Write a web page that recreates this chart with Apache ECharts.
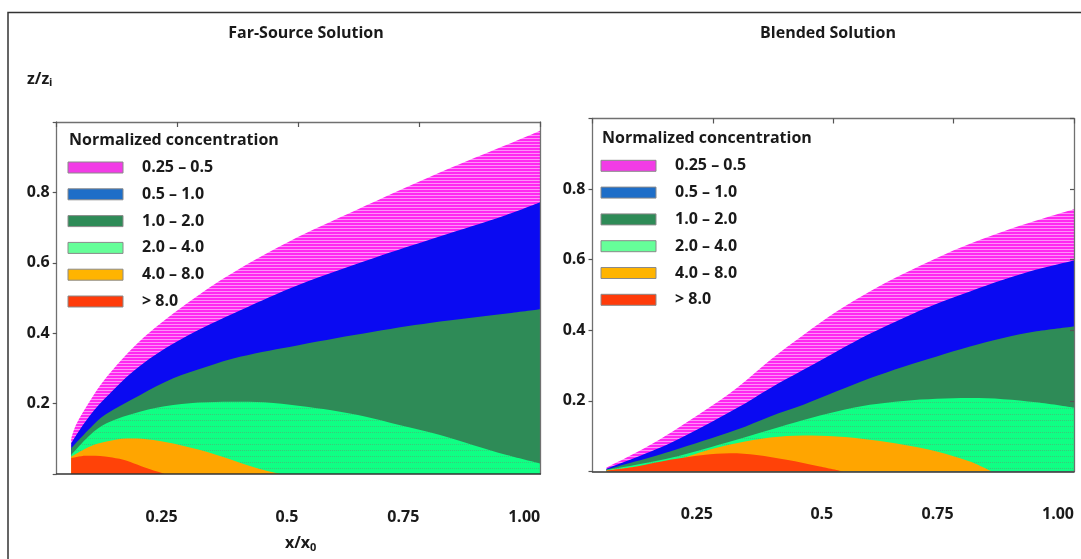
<!DOCTYPE html>
<html>
<head>
<meta charset="utf-8">
<script src="https://cdn.jsdelivr.net/npm/echarts@6/dist/echarts.min.js"></script>
<style>
  html, body { margin: 0; padding: 0; background: #fff; }
  #chart { width: 1081px; height: 559px; }
</style>
</head>
<body>
<div id="chart"></div>
<script>
// Axis ticks and labels
const xTicks = [0.25, 0.5, 0.75, 1.0];
const xTickLabels = ['0.25', '0.5', '0.75', '1.00'];
const yTicks = [0.2, 0.4, 0.6, 0.8];
const yTickLabels = ['0.2', '0.4', '0.6', '0.8'];

// Concentration bands (legend order)
const bandLabels = ['0.25 \u2013 0.5', '0.5 \u2013 1.0', '1.0 \u2013 2.0', '2.0 \u2013 4.0', '4.0 \u2013 8.0', '> 8.0'];
const panelTitles = ['Far-Source Solution', 'Blended Solution'];
const legendTitle = 'Normalized concentration';

// Upper edge [x/x0, z/zi] of each contour, far-source solution
const farPink = [[0.03, 0.10], [0.04, 0.14], [0.07, 0.21], [0.10, 0.27], [0.17, 0.375], [0.26, 0.475], [0.35, 0.56], [0.48, 0.66], [0.62, 0.75], [0.79, 0.855], [0.94, 0.94], [1.0, 0.975]];
const farBlue = [[0.03, 0.087], [0.06, 0.15], [0.10, 0.215], [0.17, 0.305], [0.26, 0.385], [0.38, 0.465], [0.50, 0.537], [0.655, 0.613], [0.79, 0.674], [0.93, 0.736], [1.0, 0.772]];
const farGreen = [[0.03, 0.073], [0.069, 0.13], [0.10, 0.168], [0.172, 0.224], [0.241, 0.272], [0.31, 0.305], [0.379, 0.333], [0.50, 0.366], [0.655, 0.404], [0.793, 0.433], [0.931, 0.456], [1.0, 0.468]];
const farLight = [[0.03, 0.054], [0.069, 0.111], [0.103, 0.144], [0.172, 0.177], [0.241, 0.196], [0.31, 0.204], [0.379, 0.205], [0.448, 0.202], [0.517, 0.191], [0.586, 0.177], [0.655, 0.158], [0.724, 0.134], [0.793, 0.111], [0.862, 0.082], [0.931, 0.054], [1.0, 0.030]];
const farOrange = [[0.03, 0.049], [0.069, 0.078], [0.103, 0.092], [0.145, 0.101], [0.186, 0.099], [0.241, 0.087], [0.31, 0.063], [0.379, 0.032], [0.434, 0.009], [0.462, 0]];
const farRed = [[0.03, 0.045], [0.06, 0.052], [0.10, 0.050], [0.13, 0.043], [0.16, 0.030], [0.19, 0.015], [0.224, 0]];

// Upper edge [x/x0, z/zi] of each contour, blended solution
const blendPink = [[0.029, 0.011], [0.126, 0.080], [0.230, 0.170], [0.299, 0.236], [0.369, 0.316], [0.438, 0.387], [0.507, 0.453], [0.576, 0.510], [0.646, 0.560], [0.715, 0.605], [0.784, 0.645], [0.853, 0.680], [0.922, 0.711], [1.0, 0.743]];
const blendBlue = [[0.029, 0.008], [0.161, 0.080], [0.299, 0.179], [0.369, 0.236], [0.438, 0.288], [0.507, 0.340], [0.576, 0.390], [0.646, 0.435], [0.715, 0.475], [0.784, 0.510], [0.853, 0.543], [0.922, 0.572], [1.0, 0.598]];
const blendGreen = [[0.029, 0.006], [0.161, 0.057], [0.299, 0.118], [0.369, 0.156], [0.438, 0.189], [0.507, 0.227], [0.576, 0.264], [0.646, 0.297], [0.715, 0.326], [0.784, 0.354], [0.853, 0.378], [0.922, 0.397], [1.0, 0.411]];
const blendLight = [[0.029, 0.004], [0.161, 0.038], [0.299, 0.090], [0.369, 0.118], [0.438, 0.146], [0.507, 0.170], [0.576, 0.189], [0.646, 0.200], [0.715, 0.206], [0.784, 0.208], [0.853, 0.205], [0.922, 0.196], [1.0, 0.181]];
const blendOrange = [[0.029, 0.003], [0.161, 0.028], [0.230, 0.057], [0.299, 0.080], [0.369, 0.096], [0.438, 0.102], [0.507, 0.099], [0.576, 0.090], [0.646, 0.076], [0.715, 0.057], [0.784, 0.028], [0.829, 0]];
const blendRed = [[0.029, 0.002], [0.092, 0.014], [0.161, 0.033], [0.230, 0.047], [0.286, 0.052], [0.341, 0.047], [0.403, 0.033], [0.472, 0.014], [0.521, 0]];

const FONT = '"Open Sans", Lato, sans-serif';
const TEXT = '#1a1a1a';

// Small repeating textures for the dotted contour fills
function texture(w, h, bg, fg, dots) {
  const c = document.createElement('canvas');
  c.width = w; c.height = h;
  const g = c.getContext('2d');
  g.fillStyle = bg; g.fillRect(0, 0, w, h);
  g.fillStyle = fg;
  dots.forEach(d => g.fillRect(d[0], d[1], 1, 1));
  return { image: c, repeat: 'repeat' };
}
const pinkFill = texture(3, 3, '#ff28f0', '#ff8ffa', [[0, 0], [1, 0], [2, 0]]);
const lightFill = texture(2, 6, '#10ff84', '#3cc87a', [[0, 0]]);
const bandFills = [pinkFill, '#0a0af2', '#2e8b57', lightFill, '#ffa500', '#ff4208'];
const legendColors = ['#f23ce6', '#1e6ec8', '#2e8b57', '#66ff99', '#ffb400', '#ff3b0a'];

const panels = [
  { bands: [farPink, farBlue, farGreen, farLight, farOrange, farRed],
    grid: { left: 56.7, top: 122, width: 483.5, height: 352 },
    titleX: 306, legendX: 68, legendTop: 140, rightTicks: false },
  { bands: [blendPink, blendBlue, blendGreen, blendLight, blendOrange, blendRed],
    grid: { left: 592.5, top: 118.5, width: 481.5, height: 353 },
    titleX: 828, legendX: 601, legendTop: 138.3, rightTicks: true }
];

function tickText(ticks, labels, v) {
  for (let i = 0; i < ticks.length; i++) {
    if (Math.abs(ticks[i] - v) < 1e-6) return labels[i];
  }
  return '';
}

const labelFont = { fontFamily: FONT, fontWeight: 'bold', fontSize: 16, color: TEXT };
const grids = [], xAxes = [], yAxes = [], series = [], graphics = [];

panels.forEach((p, i) => {
  grids.push(Object.assign({ containLabel: false }, p.grid));
  // bottom and top x axes
  xAxes.push({
    gridIndex: i, type: 'value', min: 0, max: 1, interval: 0.25, position: 'bottom', z: 10,
    axisLine: { show: true, onZero: false, lineStyle: { color: '#333', width: 1.5 } },
    axisTick: { show: false }, splitLine: { show: false },
    axisLabel: Object.assign({ formatter: v => tickText(xTicks, xTickLabels, v), align: 'right', margin: 35, showMaxLabel: true, showMinLabel: true }, labelFont)
  });
  xAxes.push({
    gridIndex: i, type: 'value', min: 0, max: 1, interval: 0.25, position: 'top', z: 10,
    axisLine: { show: true, onZero: false, lineStyle: { color: '#707070', width: 1.3 } },
    axisTick: { show: true, inside: true, length: 5, lineStyle: { color: '#555', width: 1.2 } },
    axisLabel: { show: false }, splitLine: { show: false }
  });
  // left and right y axes
  yAxes.push({
    gridIndex: i, type: 'value', min: 0, max: 1, interval: 0.2, position: 'left', z: 10,
    axisLine: { show: true, onZero: false, lineStyle: { color: '#707070', width: 1.3 } },
    axisTick: { show: true, length: 4, lineStyle: { color: '#555', width: 1.2 } },
    splitLine: { show: false },
    axisLabel: Object.assign({ formatter: v => tickText(yTicks, yTickLabels, v), margin: 7 }, labelFont)
  });
  yAxes.push({
    gridIndex: i, type: 'value', min: 0, max: 1, interval: 0.2, position: 'right', z: 10,
    axisLine: { show: true, onZero: false, lineStyle: { color: '#707070', width: 1.3 } },
    axisTick: { show: p.rightTicks, inside: true, length: 4, lineStyle: { color: '#555', width: 1.2 } },
    axisLabel: { show: false }, splitLine: { show: false }
  });

  // filled contour bands, outermost first
  p.bands.forEach((band, j) => {
    series.push({
      type: 'line', name: bandLabels[j], xAxisIndex: 2 * i, yAxisIndex: 2 * i,
      data: band, smooth: 0.35, symbol: 'none', silent: true,
      lineStyle: { width: 0 }, areaStyle: { color: bandFills[j], opacity: 1 }
    });
  });

  // panel title
  graphics.push({
    type: 'text', x: p.titleX, y: 33, z: 100,
    style: { text: panelTitles[i], fill: TEXT, font: 'bold 16px ' + FONT, textAlign: 'center', textVerticalAlign: 'middle' }
  });

  // legend block
  graphics.push({
    type: 'text', x: p.legendX + 1, y: p.legendTop, z: 100,
    style: { text: legendTitle, fill: TEXT, font: 'bold 16px ' + FONT, textAlign: 'left', textVerticalAlign: 'middle' }
  });
  bandLabels.forEach((lab, j) => {
    const cy = p.legendTop + 27.5 + j * 26.8;
    graphics.push({
      type: 'rect', z: 100,
      shape: { x: p.legendX, y: cy - 5.5, width: 55, height: 11 },
      style: { fill: legendColors[j], stroke: '#8a8a8a', lineWidth: 1 }
    });
    graphics.push({
      type: 'text', x: p.legendX + 74, y: cy, z: 100,
      style: { text: lab, fill: TEXT, font: 'bold 16px ' + FONT, textAlign: 'left', textVerticalAlign: 'middle' }
    });
  });
});

// outer frame (top and left edges)
graphics.push({
  type: 'polyline', z: 100,
  shape: { points: [[8, 600], [8, 12.5], [1100, 12.5]] },
  style: { stroke: '#333', lineWidth: 1.5, fill: null }
});
// axis names with subscripts
graphics.push({ type: 'text', x: 27, y: 79, z: 100, style: { text: 'z/z', fill: TEXT, font: 'bold 16px ' + FONT, textVerticalAlign: 'middle' } });
graphics.push({ type: 'text', x: 49, y: 83, z: 100, style: { text: 'i', fill: TEXT, font: 'bold 11px ' + FONT, textVerticalAlign: 'middle' } });
graphics.push({ type: 'text', x: 285, y: 543, z: 100, style: { text: 'x/x', fill: TEXT, font: 'bold 16px ' + FONT, textVerticalAlign: 'middle' } });
graphics.push({ type: 'text', x: 310, y: 548, z: 100, style: { text: '0', fill: TEXT, font: 'bold 11px ' + FONT, textVerticalAlign: 'middle' } });

const chart = echarts.init(document.getElementById('chart'), null, { renderer: 'canvas' });
chart.setOption({
  animation: false,
  backgroundColor: '#fff',
  grid: grids,
  xAxis: xAxes,
  yAxis: yAxes,
  series: series,
  graphic: graphics
});
</script>
</body>
</html>
